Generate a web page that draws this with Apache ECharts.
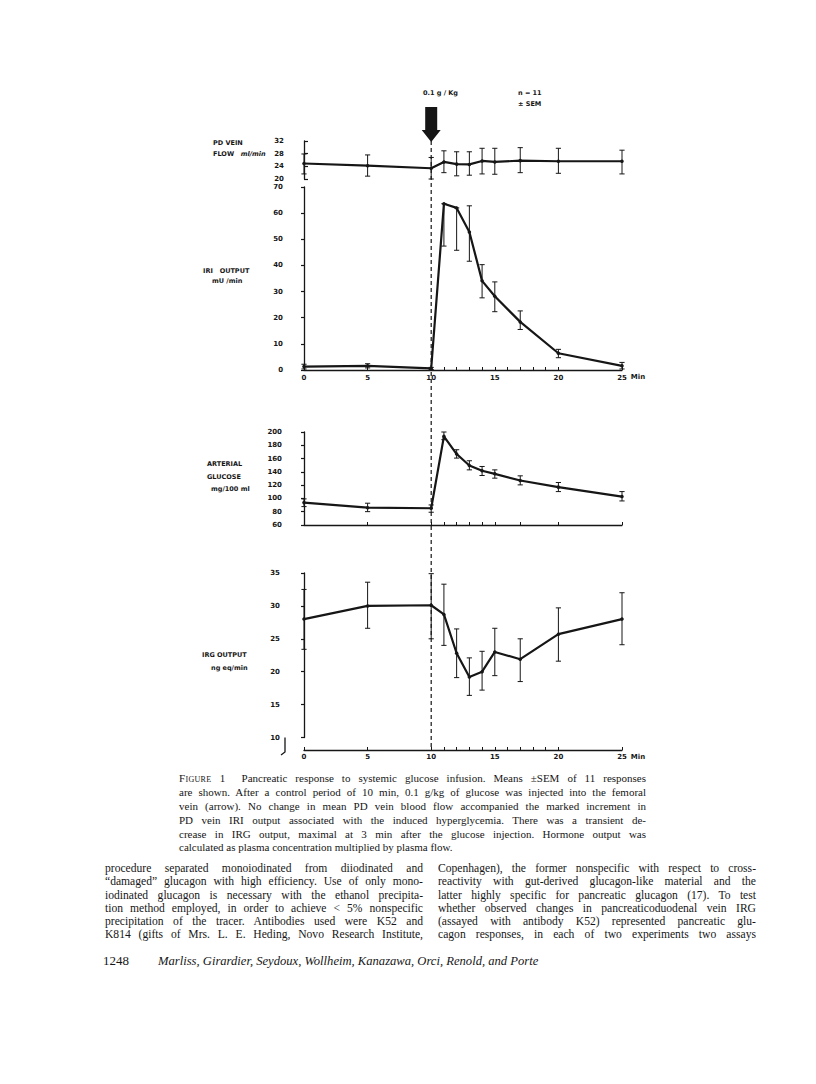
<!DOCTYPE html>
<html><head><meta charset="utf-8">
<script src="https://cdn.jsdelivr.net/npm/echarts@6/dist/echarts.min.js"></script>
<style>
html,body{margin:0;padding:0;background:#fff;}
#page{position:relative;width:816px;height:1084px;overflow:hidden;background:#fff;}
#chart{position:absolute;left:0;top:0;width:816px;height:780px;}
.ln{position:absolute;white-space:nowrap;font-family:"Liberation Serif","DejaVu Serif",serif;color:#161616;line-height:14px;height:14px;}
.j{text-align:justify;text-align-last:justify;white-space:normal;}
.cap{font-size:11px;left:179px;width:467px;}
.bl{font-size:11.6px;left:105px;width:318px;}
.br{font-size:11.6px;left:438px;width:318px;}
.sc{font-variant:small-caps;letter-spacing:0.3px;}
</style></head>
<body><div id="page">
<div id="chart"></div>

<div class="ln cap j" style="top:771px"><span class="sc">Figure 1</span>&nbsp; Pancreatic response to systemic glucose infusion. Means ±SEM of 11 responses</div>
<div class="ln cap j" style="top:785px">are shown. After a control period of 10 min, 0.1 g/kg of glucose was injected into the femoral</div>
<div class="ln cap j" style="top:799px">vein (arrow). No change in mean PD vein blood flow accompanied the marked increment in</div>
<div class="ln cap j" style="top:813px">PD vein IRI output associated with the induced hyperglycemia. There was a transient de-</div>
<div class="ln cap j" style="top:827px">crease in IRG output, maximal at 3 min after the glucose injection. Hormone output was</div>
<div class="ln cap" style="top:840px">calculated as plasma concentration multiplied by plasma flow.</div>

<div class="ln bl j" style="top:862px">procedure separated monoiodinated from diiodinated and</div>
<div class="ln bl j" style="top:875px">“damaged” glucagon with high efficiency. Use of only mono-</div>
<div class="ln bl j" style="top:889px">iodinated glucagon is necessary with the ethanol precipita-</div>
<div class="ln bl j" style="top:902px">tion method employed, in order to achieve &lt; 5% nonspecific</div>
<div class="ln bl j" style="top:915px">precipitation of the tracer. Antibodies used were K52 and</div>
<div class="ln bl j" style="top:928px">K814 (gifts of Mrs. L. E. Heding, Novo Research Institute,</div>

<div class="ln br j" style="top:862px">Copenhagen), the former nonspecific with respect to cross-</div>
<div class="ln br j" style="top:875px">reactivity with gut-derived glucagon-like material and the</div>
<div class="ln br j" style="top:889px">latter highly specific for pancreatic glucagon (17). To test</div>
<div class="ln br j" style="top:902px">whether observed changes in pancreaticoduodenal vein IRG</div>
<div class="ln br j" style="top:915px">(assayed with antibody K52) represented pancreatic glu-</div>
<div class="ln br j" style="top:928px">cagon responses, in each of two experiments two assays</div>

<div class="ln" style="top:954px;left:103px;font-size:13px;">1248</div>
<div class="ln" style="top:954px;left:158px;font-size:12.6px;font-style:italic;">Marliss, Girardier, Seydoux, Wollheim, Kanazawa, Orci, Renold, and Porte</div>
</div>
<script>
// ---- data ----
const times = [0, 5, 10, 11, 12, 13, 14, 15, 17, 20, 25];
const pdMean = [24.9, 24.2, 23.4, 25.4, 24.7, 24.6, 25.7, 25.4, 25.8, 25.6, 25.6];
const pdLow  = [21.6, 20.9, 20.0, 22.0, 21.0, 21.2, 21.6, 21.5, 22.0, 21.8, 21.6];
const pdHigh = [27.9, 27.6, 26.8, 28.9, 28.6, 28.6, 29.7, 29.7, 29.9, 29.7, 29.1];
const iriMean = [1.3, 1.6, 0.6, 63.6, 62.0, 52.8, 34.1, 28.2, 18.4, 6.4, 1.6];
const iriLow  = [0.4, 0.8, 0.2, 47.4, 45.8, 41.6, 27.6, 22.3, 15.5, 4.7, 0.4];
const iriHigh = [2.2, 2.4, 1.0, 63.6, 62.0, 62.8, 40.3, 33.7, 22.6, 7.9, 2.9];
const gluMean = [93.7, 86.1, 85.2, 193.4, 166.8, 149.6, 141.6, 137.0, 127.0, 117.0, 102.8];
const gluLow  = [87.7, 80.1, 79.2, 188.4, 160.7, 143.0, 134.5, 130.5, 120.4, 110.3, 96.2];
const gluHigh = [99.3, 92.8, 90.2, 200.0, 173.3, 156.7, 148.1, 143.0, 134.0, 124.0, 110.3];
const irgMean = [28.0, 30.0, 30.1, 28.7, 22.8, 19.2, 20.0, 23.0, 21.9, 25.7, 28.0];
const irgLow  = [23.4, 26.6, 25.0, 24.0, 19.1, 16.4, 17.2, 19.4, 18.5, 21.6, 24.1];
const irgHigh = [32.5, 33.6, 34.9, 33.3, 26.5, 22.1, 23.1, 26.6, 25.0, 29.7, 32.0];
const xLabelTicks = [0, 5, 10, 15, 20, 25];
const xMinuteTicks = [0, 5, 10, 11, 12, 13, 14, 15, 16, 17, 18, 19, 20, 25];
const xSampleTicks = [0, 5, 10, 11, 12, 13, 14, 15, 17, 20, 25];
const injectionTime = 10;

const INK = '#161616';
const FONT = 'DejaVu Sans';
const chart = echarts.init(document.getElementById('chart'), null, {renderer: 'svg'});

const grids = [
  {left: 304, width: 318, top: 141, height: 38},
  {left: 304, width: 318, top: 187, height: 183},
  {left: 304, width: 318, top: 432, height: 93},
  {left: 304, width: 318, top: 573, height: 164.5}
];
const lab = {fontFamily: FONT, fontWeight: 'bold', fontSize: 7, color: INK};

function xAxis(i, opts) {
  return Object.assign({
    gridIndex: i, type: 'value', min: 0, max: 25,
    splitLine: {show: false},
    axisLine: {show: true, lineStyle: {color: INK, width: 1.3}},
    axisTick: {show: false},
    axisLabel: {show: false}
  }, opts);
}
const xAxes = [
  xAxis(0, {axisLine: {show: false}}),
  xAxis(1, {
    offset: 1.5,
    axisTick: {show: true, inside: true, length: 3, customValues: xMinuteTicks, lineStyle: {color: INK, width: 1}},
    axisLabel: Object.assign({show: true, margin: 3, customValues: xLabelTicks}, lab),
    name: 'Min', nameLocation: 'end', nameGap: 8,
    nameTextStyle: Object.assign({verticalAlign: 'top', padding: [3, 0, 0, 0]}, lab)
  }),
  xAxis(2, {
    axisTick: {show: true, inside: true, length: 3, customValues: xSampleTicks, lineStyle: {color: INK, width: 1}}
  }),
  xAxis(3, {
    offset: 12.5,
    axisTick: {show: true, inside: true, length: 3, customValues: xMinuteTicks, lineStyle: {color: INK, width: 1}},
    axisLabel: Object.assign({show: true, margin: 3, customValues: xLabelTicks}, lab),
    name: 'Min', nameLocation: 'end', nameGap: 8,
    nameTextStyle: Object.assign({verticalAlign: 'top', padding: [3, 0, 0, 0]}, lab)
  })
];
function yAxis(i, min, max, interval, offset, inside) {
  return {
    gridIndex: i, type: 'value', min: min, max: max, interval: interval, offset: offset,
    splitLine: {show: false},
    axisLine: {show: true, lineStyle: {color: INK, width: 1.3}},
    axisTick: {show: true, inside: inside, length: inside ? 4 : 3, lineStyle: {color: INK, width: 1.2}},
    axisLabel: Object.assign({margin: inside ? 4 : 5}, lab)
  };
}
const yAxes = [
  yAxis(0, 20, 32, 4, 16, true),
  yAxis(1, 0, 70, 10, 16, false),
  yAxis(2, 60, 200, 20, 17, false),
  yAxis(3, 10, 35, 5, 19, false)
];

function errRender(params, api) {
  const x = api.value(0), lo = api.value(1), hi = api.value(2);
  const a = api.coord([x, lo]), b = api.coord([x, hi]);
  const w = 2.6;
  const st = {stroke: INK, lineWidth: 1};
  return {type: 'group', children: [
    {type: 'line', shape: {x1: a[0], y1: a[1], x2: b[0], y2: b[1]}, style: st},
    {type: 'line', shape: {x1: a[0] - w, y1: a[1], x2: a[0] + w, y2: a[1]}, style: st},
    {type: 'line', shape: {x1: b[0] - w, y1: b[1], x2: b[0] + w, y2: b[1]}, style: st}
  ]};
}
function panelSeries(i, mean, low, high) {
  return [
    {type: 'custom', xAxisIndex: i, yAxisIndex: i, renderItem: errRender, clip: false, z: 2,
     encode: {x: 0, y: [1, 2]}, data: times.map((t, k) => [t, low[k], high[k]]), silent: true},
    {type: 'line', xAxisIndex: i, yAxisIndex: i, z: 3, symbol: 'circle', symbolSize: 3.5,
     itemStyle: {color: INK}, lineStyle: {color: INK, width: 2.2}, animation: false,
     data: times.map((t, k) => [t, mean[k]])}
  ];
}

const option = {
  animation: false,
  backgroundColor: '#fff',
  grid: grids,
  xAxis: xAxes,
  yAxis: yAxes,
  series: [].concat(
    panelSeries(0, pdMean, pdLow, pdHigh),
    panelSeries(1, iriMean, iriLow, iriHigh),
    panelSeries(2, gluMean, gluLow, gluHigh),
    panelSeries(3, irgMean, irgLow, irgHigh)
  )
};
chart.setOption(option);

// annotations positioned through the axes' scales
const x10 = chart.convertToPixel({xAxisIndex: 0}, injectionTime);
const yTop = chart.convertToPixel({yAxisIndex: 0}, 32);
const yBot = chart.convertToPixel({yAxisIndex: 3}, 10) + 10;
const yAx3Top = chart.convertToPixel({yAxisIndex: 3}, 10);
const ax3x = 304 - 19;
function txt(x, y, s, extra) {
  return {type: 'text', x: x, y: y, style: Object.assign({text: s, fill: INK, font: 'bold 6.5px "DejaVu Sans"', verticalAlign: 'middle'}, extra || {})};
}
chart.setOption({graphic: [
  {type: 'line', shape: {x1: x10, y1: yTop, x2: x10, y2: yBot}, style: {stroke: INK, lineWidth: 1.2, lineDash: [4, 3]}},
  {type: 'polygon', shape: {points: [[x10 - 6, 107], [x10 + 6, 107], [x10 + 6, 130], [x10 + 9.5, 130], [x10, 142], [x10 - 9.5, 130], [x10 - 6, 130]]}, style: {fill: INK}},
  {type: 'polyline', shape: {points: [[ax3x, yAx3Top], [ax3x, 752], [ax3x - 4, 755]]}, style: {stroke: INK, lineWidth: 1.3, fill: null}},
  txt(423, 93, '0.1 g / Kg', {font: 'bold 6.5px "DejaVu Sans"'}),
  txt(518, 93, 'n = 11'),
  txt(518, 104, '± SEM'),
  txt(213, 143, 'PD VEIN'),
  {type: 'text', x: 213, y: 154, style: {rich: {b: {font: 'bold 6.5px "DejaVu Sans"', fill: INK}, i: {font: 'italic bold 6.5px "DejaVu Sans"', fill: INK}}, text: '{b|FLOW}  {i|ml/min}', verticalAlign: 'middle'}},
  txt(203, 271, 'IRI   OUTPUT'),
  txt(212, 281, 'mU /min'),
  txt(207, 464, 'ARTERIAL'),
  txt(207, 477, 'GLUCOSE'),
  txt(211, 489, 'mg/100 ml', {font: 'bold 6.5px "DejaVu Sans"'}),
  txt(202, 655, 'IRG OUTPUT'),
  txt(211, 668, 'ng eq/min')
]});
</script>
</body></html>
